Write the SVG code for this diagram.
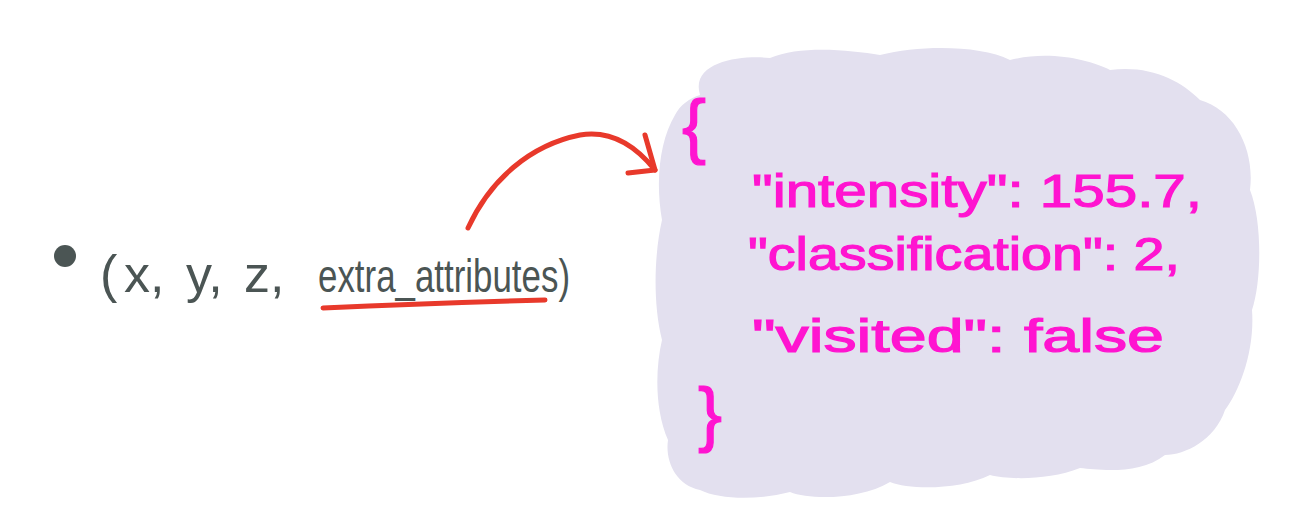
<svg xmlns="http://www.w3.org/2000/svg" width="1296" height="522" viewBox="0 0 1296 522">
<style>
.ink{fill:#4b5554;font-family:"Liberation Sans","DejaVu Sans",sans-serif}
.pink{fill:#ff14d0;font-family:"Liberation Sans","DejaVu Sans",sans-serif;stroke:#ff14d0;stroke-width:1.2}
.red{fill:none;stroke:#e8392b;stroke-width:5;stroke-linecap:round;stroke-linejoin:round}
</style>
<rect width="1296" height="522" fill="#ffffff"/>
<g id="blob">
<path d="M 700,95 C 690,62 740,55 770,58 C 800,45 850,50 880,55 C 920,45 980,45 1010,60 C 1050,50 1090,60 1110,70 C 1150,65 1180,80 1200,100 C 1235,110 1255,150 1250,190 C 1262,220 1262,280 1252,310 C 1255,350 1240,390 1225,410 C 1215,440 1185,455 1165,455 C 1140,475 1100,470 1080,468 C 1050,480 1010,480 990,475 C 960,490 910,490 890,482 C 860,500 810,500 790,492 C 760,500 720,500 700,490 C 675,485 665,460 668,440 C 655,410 655,370 662,340 C 652,300 655,250 662,220 C 655,180 660,140 675,115 C 680,105 690,98 700,95 Z" fill="#e3e0ef"/>
<text class="pink" x="682" y="150" font-size="72">{</text>
<text class="pink" x="752" y="207" font-size="46" textLength="450" lengthAdjust="spacingAndGlyphs">"intensity": 155.7,</text>
<text class="pink" x="748" y="270" font-size="46" textLength="432" lengthAdjust="spacingAndGlyphs">"classification": 2,</text>
<text class="pink" x="752" y="352" font-size="46" textLength="412" lengthAdjust="spacingAndGlyphs">"visited": false</text>
<text class="pink" x="698" y="438" font-size="72">}</text>
</g>
<g id="point">
<circle cx="65" cy="256" r="11" fill="#4b5554"/>
<text class="ink" y="292" font-size="52"><tspan x="100">(</tspan><tspan x="124">x,</tspan><tspan x="186">y,</tspan><tspan x="244">z,</tspan><tspan x="318" font-size="46" textLength="252" lengthAdjust="spacingAndGlyphs">extra_attributes)</tspan></text>
</g>
<g id="connectors">
<path class="red" d="M 323,308 Q 430,303 545,300"/>
<path class="red" d="M 468,228 C 490,180 530,145 580,135 C 610,130 635,145 655,170"/>
<path class="red" d="M 645,135 L 655,170 M 628,173 L 655,170"/>
</g>
</svg>
